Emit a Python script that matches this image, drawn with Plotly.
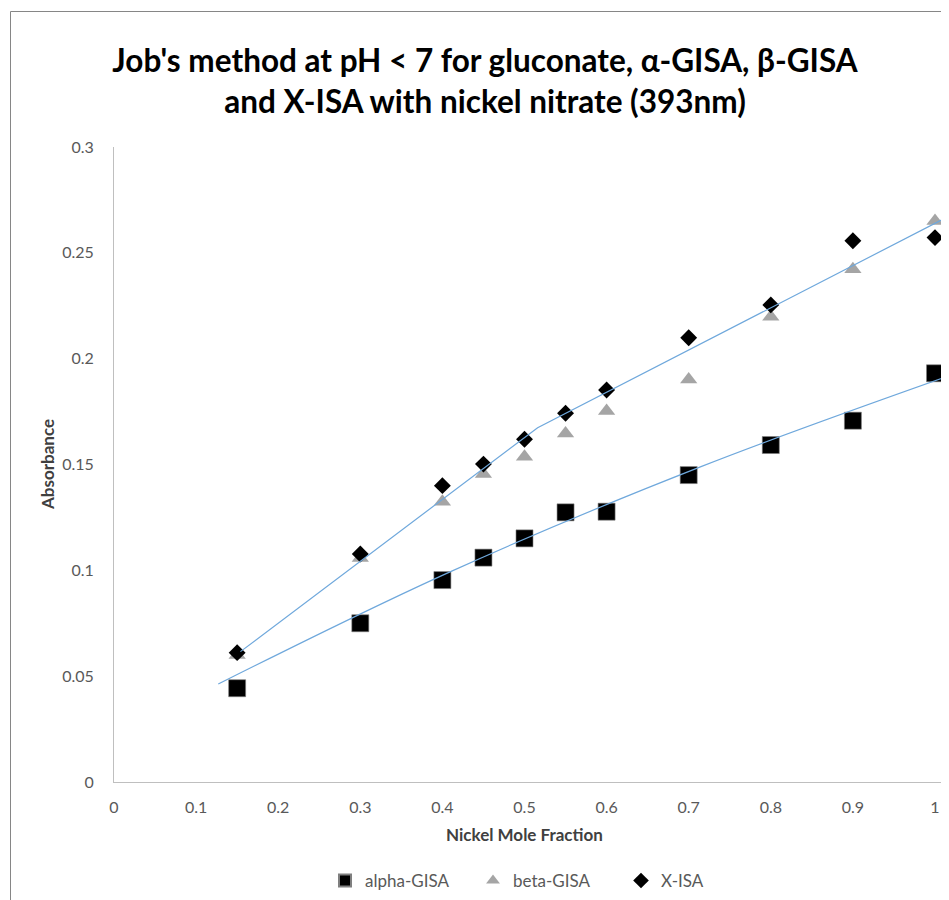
import plotly.graph_objects as go

# ---- data ----
x_frac = [0.15, 0.3, 0.4, 0.45, 0.5, 0.55, 0.6, 0.7, 0.8, 0.9, 1.0]
alpha_gisa = [0.0443, 0.0750, 0.0954, 0.1060, 0.1151, 0.1274, 0.1277, 0.1450, 0.1592, 0.1707, 0.1931]
beta_gisa = [0.0600, 0.1058, 0.1324, 0.1455, 0.1537, 0.1647, 0.1753, 0.1902, 0.2198, 0.2422, 0.2650]
x_isa = [0.0611, 0.1077, 0.1400, 0.1502, 0.1619, 0.1742, 0.1852, 0.2099, 0.2254, 0.2557, 0.2572]

# trend lines (x, absorbance)
alpha_trend_x = [0.127, 0.41, 0.715, 1.02]
alpha_trend_y = [0.0463, 0.0994, 0.1490, 0.1923]
xisa_trend_x = [0.154, 0.516, 1.02]
xisa_trend_y = [0.0616, 0.1674, 0.2679]

series_names = ["alpha-GISA", "beta-GISA", "X-ISA"]
y_ticks = [0, 0.05, 0.1, 0.15, 0.2, 0.25, 0.3]
y_tick_text = ["0", "0.05", "0.1", "0.15", "0.2", "0.25", "0.3"]
x_ticks = [0, 0.1, 0.2, 0.3, 0.4, 0.5, 0.6, 0.7, 0.8, 0.9, 1.0]
x_tick_text = ["0", "0.1", "0.2", "0.3", "0.4", "0.5", "0.6", "0.7", "0.8", "0.9", "1"]

# page has an 8px body margin
OFF = 8
W, H = 949 - OFF, 900 - OFF
L, T = 114 - OFF, 147 - OFF
R = 0
B = H - (782 - OFF)
pw, ph = W - L - R, H - T - B
x_max = pw / 821.0


def px_x(xs):  # screen x -> paper
    return (xs - 114) / pw


def px_y(ys):  # screen y -> paper
    return (782 - ys) / ph


FONT = "Lato, 'Open Sans', sans-serif"

fig = go.Figure()
fig.add_trace(go.Scatter(x=x_frac, y=alpha_gisa, mode="markers", name=series_names[0],
                         marker=dict(symbol="square", size=17, color="#000000",
                                     line=dict(width=0.6, color="#7f7f7f"))))
fig.add_trace(go.Scatter(x=x_frac, y=beta_gisa, mode="markers", name=series_names[1],
                         marker=dict(symbol="triangle-up", size=15, color="#a5a5a5",
                                     line=dict(width=0))))
fig.add_trace(go.Scatter(x=x_frac, y=x_isa, mode="markers", name=series_names[2],
                         marker=dict(symbol="diamond", size=13, color="#000000",
                                     line=dict(width=0))))
fig.add_trace(go.Scatter(x=alpha_trend_x, y=alpha_trend_y, mode="lines", showlegend=False,
                         hoverinfo="skip", line=dict(color="#6fa8dc", width=1.2, shape="spline",
                                                     smoothing=1.0)))
fig.add_trace(go.Scatter(x=xisa_trend_x, y=xisa_trend_y, mode="lines", showlegend=False,
                         hoverinfo="skip", line=dict(color="#6fa8dc", width=1.2)))

tick_font = dict(family=FONT, size=16, color="#595959")

fig.update_layout(
    width=W, height=H,
    margin=dict(l=L, r=R, t=T, b=B, autoexpand=False),
    paper_bgcolor="white", plot_bgcolor="white",
    font=dict(family=FONT),
    title=dict(
        text="Job's method at pH < 7 for gluconate, α-GISA, β-GISA<br>and X-ISA with nickel nitrate (393nm)",
        font=dict(family=FONT, size=31.5, color="#000000", weight="bold"),
        xref="container", x=(485 - OFF) / W, xanchor="center",
        yref="container", y=1 - (72 - OFF) / H, yanchor="middle",
    ),
    xaxis=dict(range=[0, x_max], tickvals=x_ticks, ticktext=x_tick_text,
               showgrid=False, zeroline=False, showline=True, linecolor="#bfbfbf",
               linewidth=1, ticks="", tickfont=tick_font, ticklabelstandoff=11, fixedrange=True),
    yaxis=dict(range=[0, 0.3], tickvals=y_ticks, ticktext=y_tick_text,
               showgrid=False, zeroline=False, showline=True, linecolor="#bfbfbf",
               linewidth=1, ticks="", tickfont=tick_font, ticklabelstandoff=16, fixedrange=True),
    showlegend=True,
    legend=dict(orientation="h", xref="paper", yref="paper",
                x=px_x(325), xanchor="left", y=px_y(881), yanchor="middle",
                entrywidth=103,
                font=dict(family=FONT, size=17, color="#595959"),
                itemsizing="constant", bgcolor="rgba(0,0,0,0)"),
    annotations=[
        dict(text="<b>Absorbance</b>", xref="paper", yref="paper",
             x=px_x(47), y=px_y(465), xanchor="center", yanchor="middle",
             textangle=-90, showarrow=False,
             font=dict(family=FONT, size=17, color="#404040")),
        dict(text="<b>Nickel Mole Fraction</b>", xref="paper", yref="paper",
             x=px_x(524), y=px_y(834), xanchor="center", yanchor="middle",
             showarrow=False,
             font=dict(family=FONT, size=17, color="#404040")),
    ],
    shapes=[
        dict(type="rect", xref="paper", yref="paper",
             x0=px_x(10.5), x1=1.2, y0=px_y(960), y1=px_y(11.5),
             line=dict(color="#868686", width=1), fillcolor="rgba(0,0,0,0)"),
    ],
)

fig.write_html("out.html")
